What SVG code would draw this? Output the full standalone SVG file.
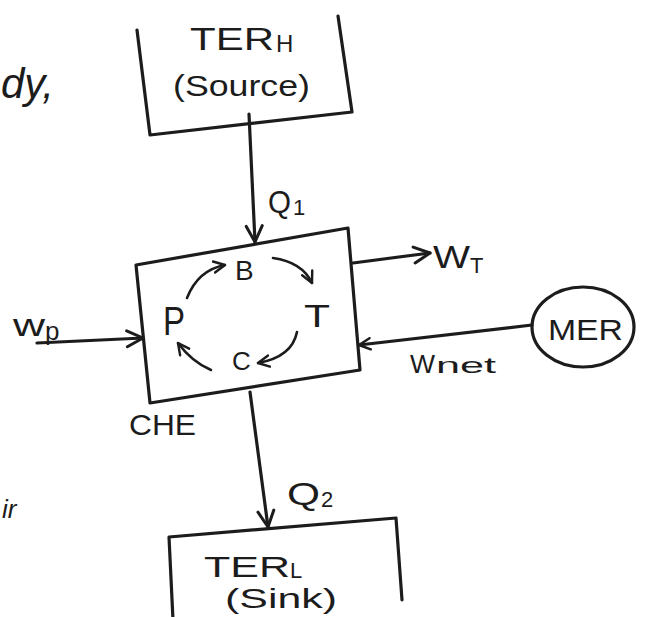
<svg xmlns="http://www.w3.org/2000/svg" width="650" height="617" viewBox="0 0 650 617">
<defs>
<style>
.ink{fill:none;stroke:#1c1c1c;stroke-width:3.2;stroke-linecap:round;stroke-linejoin:round}
.thin{fill:none;stroke:#1c1c1c;stroke-width:2.6;stroke-linecap:round;stroke-linejoin:round}
.t{font-family:"Liberation Sans","DejaVu Sans",sans-serif;fill:#1c1c1c}
</style>
<marker id="arr" viewBox="0 0 20 20" refX="18" refY="10" markerWidth="20" markerHeight="20" markerUnits="userSpaceOnUse" orient="auto">
<path d="M2,2 L18,10 L2,18" fill="none" stroke="#1c1c1c" stroke-width="3" stroke-linecap="round" stroke-linejoin="round"/>
</marker>
<marker id="arrs" viewBox="0 0 20 20" refX="18" refY="10" markerWidth="14" markerHeight="14" markerUnits="userSpaceOnUse" orient="auto">
<path d="M2,2 L18,10 L2,18" fill="none" stroke="#1c1c1c" stroke-width="3.5" stroke-linecap="round" stroke-linejoin="round"/>
</marker>
</defs>
<rect width="650" height="617" fill="#ffffff"/>

<g id="fragments">
<text class="t" x="1" y="98" font-size="42" font-style="italic">dy,</text>
<text class="t" x="2" y="518" font-size="26" font-style="italic">ir</text>
</g>

<g id="ter-h">
<polyline class="ink" points="137,30 150,135 352,112 338,16"/>
<text class="t" x="190" y="50" font-size="32" textLength="84" lengthAdjust="spacingAndGlyphs">TER</text>
<text class="t" x="276" y="52" font-size="24">H</text>
<text class="t" x="173" y="96" font-size="30" textLength="137" lengthAdjust="spacingAndGlyphs">(Source)</text>
</g>

<g id="che">
<polygon class="ink" points="136,265 348,228 360,370 150,403"/>
<text class="t" x="129" y="435" font-size="29" textLength="67" lengthAdjust="spacingAndGlyphs">CHE</text>
<text class="t" x="235" y="280" font-size="28">B</text>
<text class="t" x="163" y="335" font-size="40" textLength="22" lengthAdjust="spacingAndGlyphs">P</text>
<text class="t" x="304" y="327" font-size="32" textLength="26" lengthAdjust="spacingAndGlyphs">T</text>
<text class="t" x="232" y="370" font-size="26">C</text>
</g>

<g id="mer">
<ellipse class="ink" cx="583" cy="327" rx="51" ry="40"/>
<text class="t" x="548" y="340" font-size="30" textLength="75" lengthAdjust="spacingAndGlyphs">MER</text>
</g>

<g id="ter-l">
<polyline class="ink" points="173,620 169,537 396,518 402,600"/>
<text class="t" x="204" y="577" font-size="30" textLength="86" lengthAdjust="spacingAndGlyphs">TER</text>
<text class="t" x="290" y="578" font-size="22">L</text>
<text class="t" x="225" y="608" font-size="28" textLength="112" lengthAdjust="spacingAndGlyphs">(Sink)</text>
</g>

<g id="connectors">
<path class="ink" d="M249,114 L255,242" marker-end="url(#arr)"/>
<path class="ink" d="M250,392 L268,527" marker-end="url(#arr)"/>
<path class="ink" d="M353,263 L430,253" marker-end="url(#arr)"/>
<path class="ink" d="M37,343 L143,338" marker-end="url(#arr)"/>
<path class="ink" d="M532,325 L359,345" marker-end="url(#arrs)"/>
<path class="thin" d="M187,298 Q198,270 225,265" marker-end="url(#arrs)"/>
<path class="thin" d="M273,258 Q302,262 312,283" marker-end="url(#arrs)"/>
<path class="thin" d="M297,332 Q292,357 258,363" marker-end="url(#arrs)"/>
<path class="thin" d="M211,370 Q192,362 178,343" marker-end="url(#arrs)"/>
</g>

<g id="labels">
<text class="t" x="268" y="213" font-size="32" textLength="23" lengthAdjust="spacingAndGlyphs">Q</text>
<text class="t" x="293" y="215" font-size="22">1</text>
<text class="t" x="433" y="268" font-size="32" textLength="37" lengthAdjust="spacingAndGlyphs">W</text>
<text class="t" x="470" y="273" font-size="22">T</text>
<text class="t" x="13" y="336" font-size="32" textLength="32" lengthAdjust="spacingAndGlyphs">w</text>
<text class="t" x="45" y="340" font-size="26">p</text>
<text class="t" x="410" y="373" font-size="26" textLength="25" lengthAdjust="spacingAndGlyphs">W</text>
<text class="t" x="436" y="373" font-size="22" textLength="60" lengthAdjust="spacingAndGlyphs">net</text>
<text class="t" x="287" y="505" font-size="32" textLength="33" lengthAdjust="spacingAndGlyphs">Q</text>
<text class="t" x="321" y="507" font-size="22">2</text>
</g>
</svg>
